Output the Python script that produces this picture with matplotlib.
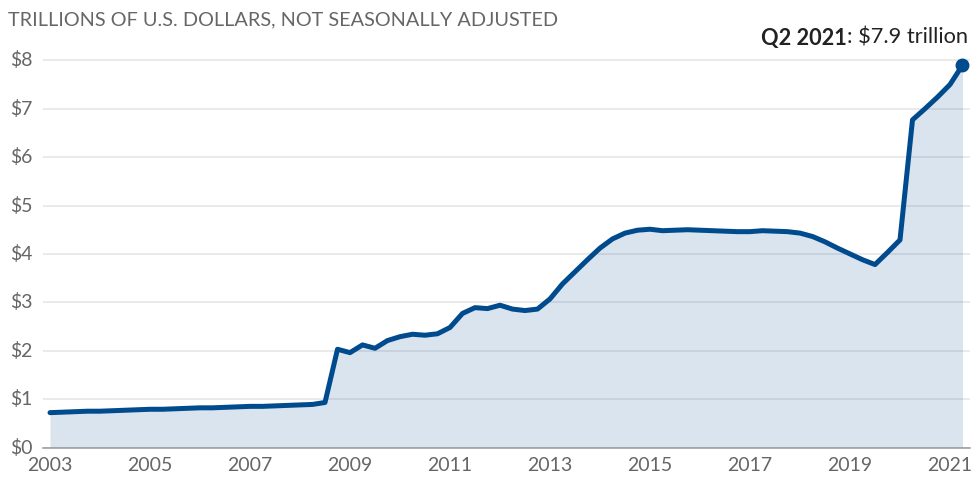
import matplotlib.pyplot as plt
import numpy as np

# quarterly values, Q1 2003 .. Q2 2021 (trillions of U.S. dollars)
years = list(range(2003, 2022))
assets = [
    0.72, 0.73, 0.74, 0.75,   # 2003
    0.75, 0.76, 0.77, 0.78,   # 2004
    0.79, 0.79, 0.80, 0.81,   # 2005
    0.82, 0.82, 0.83, 0.84,   # 2006
    0.85, 0.85, 0.86, 0.87,   # 2007
    0.88, 0.89, 0.93, 2.03,   # 2008
    1.96, 2.12, 2.05, 2.21,   # 2009
    2.29, 2.34, 2.32, 2.35,   # 2010
    2.48, 2.77, 2.89, 2.87,   # 2011
    2.94, 2.86, 2.83, 2.86,   # 2012
    3.07, 3.38, 3.63, 3.88,   # 2013
    4.12, 4.31, 4.43, 4.49,   # 2014
    4.51, 4.48, 4.49, 4.50,   # 2015
    4.49, 4.48, 4.47, 4.46,   # 2016
    4.46, 4.48, 4.47, 4.46,   # 2017
    4.43, 4.36, 4.25, 4.12,   # 2018
    4.00, 3.88, 3.78, 4.03,   # 2019
    4.29, 6.77, 7.00, 7.24,   # 2020
    7.50, 7.90,               # 2021
]
x_ticks = [2003, 2005, 2007, 2009, 2011, 2013, 2015, 2017, 2019, 2021]
y_ticks = [0, 1, 2, 3, 4, 5, 6, 7, 8]
y_labels = ['$0', '$1', '$2', '$3', '$4', '$5', '$6', '$7', '$8']
unit_label = 'TRILLIONS OF U.S. DOLLARS, NOT SEASONALLY ADJUSTED'
last_label = 'Q2 2021'
last_value = '$7.9 trillion'

quarters = np.array([y + q / 4 for y in years for q in range(4)])[:len(assets)]
assets = np.array(assets)

line_color = '#004b8d'
text_color = '#666666'

plt.rcParams['font.family'] = ['Lato', 'DejaVu Sans']

fig = plt.figure(figsize=(9.75, 4.82), dpi=100)
ax = fig.add_axes([43 / 975, 34.5 / 482, 927 / 975, 392 / 482])

ax.fill_between(quarters, 0, assets, color=line_color, alpha=0.145, lw=0, zorder=2)
ax.plot(quarters, assets, color=line_color, lw=3.6, solid_joinstyle='round',
        solid_capstyle='round', zorder=3)
ax.plot(quarters[-1], assets[-1], 'o', color=line_color, ms=9, zorder=4)

ax.set_xlim(2002.86, 2021.4)
ax.set_ylim(0, 8.1)

ax.set_yticks(y_ticks)
ax.set_yticklabels([])
ax.grid(axis='y', color='#e4e4e4', lw=1.1, zorder=1)
ax.tick_params(axis='y', length=0)
ytrans = ax.get_yaxis_transform()
for v, lab in zip(y_ticks, y_labels):
    ax.text(-33 / 927, v, lab, transform=ytrans, ha='left', va='center',
            fontsize=14, color=text_color)

ax.set_xticks(x_ticks)
ax.set_xticklabels([str(t) for t in x_ticks], fontsize=14, color=text_color)
ax.tick_params(axis='x', length=0, pad=7)

for s in ['top', 'right', 'left']:
    ax.spines[s].set_visible(False)
ax.spines['bottom'].set_color('#999999')
ax.spines['bottom'].set_linewidth(1.1)
ax.spines['bottom'].set_zorder(5)

fig.text(8 / 975, 1 - 20 / 482, unit_label, ha='left', va='center',
         fontsize=14.3, color=text_color)

# annotation for the last point, bold date then value
t2 = fig.text(968 / 975, 1 - 38 / 482, ': ' + last_value, ha='right', va='center',
              fontsize=15.7, color='#222222')
fig.canvas.draw()
bb = t2.get_window_extent()
fig.text(bb.x0 / fig.bbox.width, 1 - 38 / 482, last_label, ha='right', va='center',
         fontsize=15.7, fontweight='bold', color='#222222')

fig.savefig('out.png', dpi=100)
